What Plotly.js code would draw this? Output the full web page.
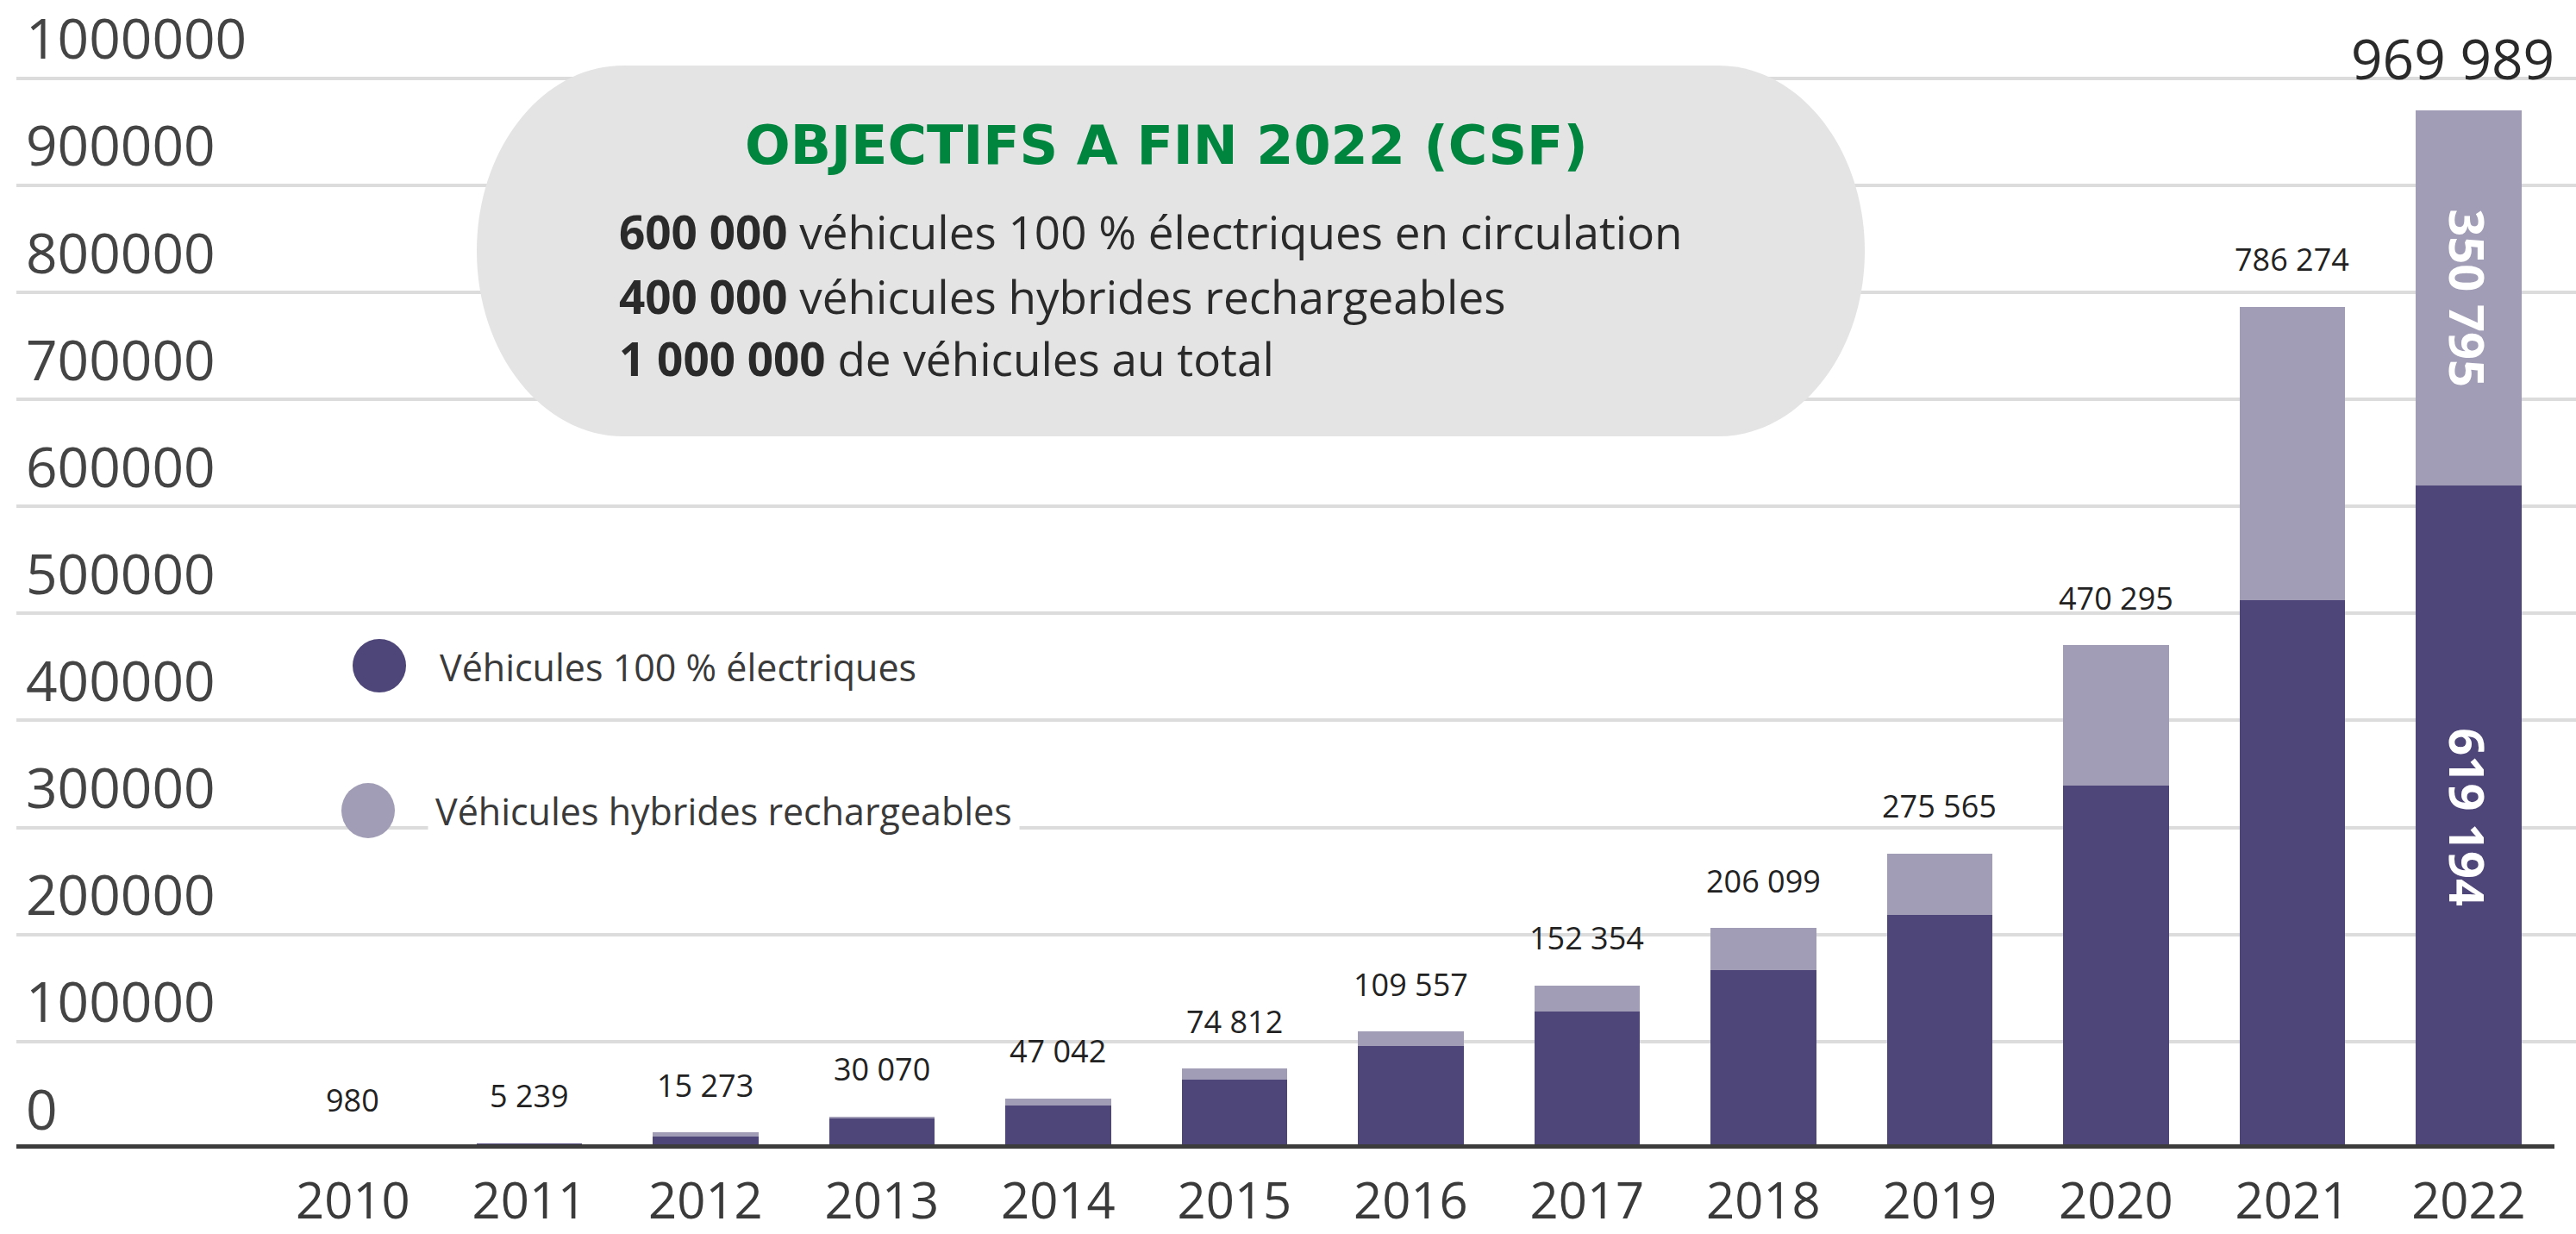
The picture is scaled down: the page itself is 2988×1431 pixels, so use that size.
<!DOCTYPE html>
<html>
<head>
<meta charset="utf-8">
<script src="https://cdn.plot.ly/plotly-3.0.1.min.js"></script>
<style>html,body{margin:0;padding:0;background:#fff;}#chart{width:2988px;height:1431px;}</style>
</head>
<body>
<div id="chart"></div>
<script>
// ---- data ----
const years = ['2010','2011','2012','2013','2014','2015','2016','2017','2018','2019','2020','2021','2022'];
const totals = [980, 5239, 15273, 30070, 47042, 74812, 109557, 152354, 206099, 275565, 470295, 786274, 969989];
const electric = [980, 4800, 11500, 28500, 40500, 64800, 95500, 127700, 166600, 218000, 339000, 512600, 619194];
const hybrid = [0, 439, 3773, 1570, 6542, 10012, 14057, 24654, 39499, 57565, 131295, 273674, 350795];
const electricInside = ['','','','','','','','','','','','','619 194'];
const hybridInside = ['','','','','','','','','','','','','350 795'];
const seriesNames = ['Véhicules 100 % électriques', 'Véhicules hybrides rechargeables'];
const goalTitle = 'OBJECTIFS A FIN 2022 (CSF)';
const goalLines = [
  ['600 000', ' véhicules 100 % électriques en circulation'],
  ['400 000', ' véhicules hybrides rechargeables'],
  ['1 000 000', ' de véhicules au total']
];

// ---- geometry helpers ----
const W = 2988, H = 1431, L = 19, R = 0, T = 0, B = 99;
const pw = W - L - R, ph = H - T - B;
const px = x => (x - L) / pw;
const py = y => (H - B - y) / ph;
const fmt = n => String(n).replace(/\B(?=(\d{3})+(?!\d))/g, ' ');

const DARK = '#4e4678', LIGHT = '#a19db6';

const traces = [
  {type:'bar', x: years, y: electric, name: seriesNames[0], marker:{color: DARK, line:{width:0}},
   text: electricInside, textposition:'inside', insidetextanchor:'middle', textangle:90,
   constraintext:'none', insidetextfont:{family:'Open Sans, sans-serif', size:56, color:'#ffffff', weight:700},
   hoverinfo:'x+y'},
  {type:'bar', x: years, y: hybrid, name: seriesNames[1], marker:{color: LIGHT, line:{width:0}},
   text: hybridInside, textposition:'inside', insidetextanchor:'middle', textangle:90,
   constraintext:'none', insidetextfont:{family:'Open Sans, sans-serif', size:56, color:'#ffffff', weight:700},
   hoverinfo:'x+y'}
];

// bubble path (stadium shape)
function stadium(l, t, r, b, rx) {
  const ry = (b - t) / 2, k = 0.5523;
  const P = (x, y) => px(x) + ',' + py(y);
  return 'M' + P(l + rx, t) + ' L' + P(r - rx, t) +
    ' C' + P(r - rx + k * rx, t) + ' ' + P(r, t + ry - k * ry) + ' ' + P(r, t + ry) +
    ' C' + P(r, b - ry + k * ry) + ' ' + P(r - rx + k * rx, b) + ' ' + P(r - rx, b) +
    ' L' + P(l + rx, b) +
    ' C' + P(l + rx - k * rx, b) + ' ' + P(l, b - ry + k * ry) + ' ' + P(l, t + ry) +
    ' C' + P(l, t + ry - k * ry) + ' ' + P(l + rx - k * rx, t) + ' ' + P(l + rx, t) + ' Z';
}

const shapes = [
  {type:'path', xref:'paper', yref:'paper', path: stadium(553, 76, 2163, 506, 170),
   fillcolor:'#e4e4e4', line:{width:0}, layer:'above'},
  {type:'line', xref:'paper', yref:'y', x0:0, x1:px(2963), y0:0, y1:0,
   line:{color:'#3c3c3c', width:10}, layer:'above'},
  {type:'circle', xref:'paper', yref:'paper', x0:px(409), x1:px(471), y0:py(803), y1:py(741),
   fillcolor: DARK, line:{width:0}, layer:'above'},
  {type:'circle', xref:'paper', yref:'paper', x0:px(396), x1:px(458), y0:py(972), y1:py(908),
   fillcolor: LIGHT, line:{width:0}, layer:'above'}
];

const annotations = [];
// totals above bars (x given as category index)
years.forEach((yr, i) => {
  const last = i === years.length - 1;
  annotations.push({
    x: i, y: totals[i], xref:'x', yref:'y', text: fmt(totals[i]), showarrow:false,
    xanchor:'center', yanchor:'middle', yshift: last ? 60 : 55, xshift: last ? -18 : 0,
    font: last ? {family:'Open Sans, sans-serif', size:64, color:'#2a2a2a'}
               : {family:'Open Sans, sans-serif', size:36, color:'#222'}
  });
});
// goal box
annotations.push({xref:'paper', yref:'paper', x: px(1353), y: py(168), text: goalTitle, showarrow:false,
  xanchor:'center', yanchor:'middle', font:{family:'DejaVu Sans, sans-serif', size:62, color:'#00853e', weight:700}});
const lineY = [268, 343, 416];
goalLines.forEach((ln, i) => {
  annotations.push({xref:'paper', yref:'paper', x: px(716), y: py(lineY[i]),
    text: '<b>' + ln[0] + '</b>' + ln[1], showarrow:false, xanchor:'left', yanchor:'middle',
    font:{family:'Open Sans, sans-serif', size:53, color:'#2a2a2a'}});
});
// legend labels
annotations.push({xref:'paper', yref:'paper', x: px(505), y: py(773), text: seriesNames[0], showarrow:false,
  xanchor:'left', yanchor:'middle', font:{family:'Open Sans, sans-serif', size:43, color:'#3a3a3a'},
  bgcolor:'#ffffff', borderpad:4});
annotations.push({xref:'paper', yref:'paper', x: px(496), y: py(940), text: seriesNames[1], showarrow:false,
  xanchor:'left', yanchor:'middle', font:{family:'Open Sans, sans-serif', size:43, color:'#3a3a3a'},
  bgcolor:'#ffffff', borderpad:8});

const layout = {
  width: W, height: H,
  margin: {l: L, r: R, t: T, b: B, pad: 0},
  paper_bgcolor:'#ffffff', plot_bgcolor:'#ffffff',
  barmode:'stack', bargap:0.4, showlegend:false,
  font:{family:'Open Sans, sans-serif', color:'#333'},
  xaxis:{type:'category', range:[-1.909, 12.609], showgrid:false, zeroline:false, showline:false,
    ticks:'', tickfont:{family:'Open Sans, sans-serif', size:58, color:'#3a3a3a'}, ticklabelstandoff:22},
  yaxis:{range:[0, 1073000], tick0:0, dtick:100000, tickformat:'d', showgrid:true,
    gridcolor:'#dcdcdc', gridwidth:4, zeroline:false, showline:false, ticks:'',
    ticklabelposition:'inside top', ticklabelstandoff:8,
    tickfont:{family:'Open Sans, sans-serif', size:64, color:'#444'}},
  shapes: shapes,
  annotations: annotations
};

Plotly.newPlot('chart', traces, layout, {displayModeBar:false, staticPlot:true});
</script>
</body>
</html>
